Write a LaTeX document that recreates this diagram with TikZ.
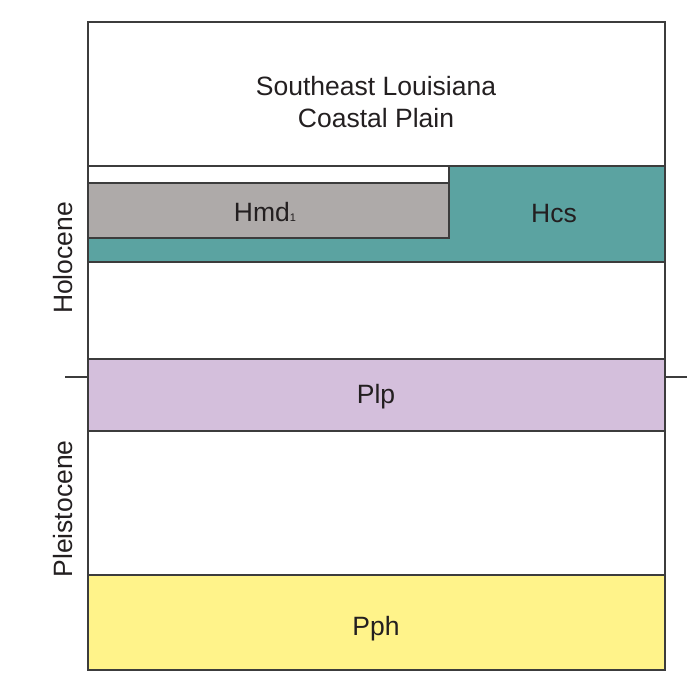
\documentclass[tikz,border=0pt]{standalone}
\usepackage{fontspec}
\setmainfont{Liberation Sans}
\definecolor{hcs}{RGB}{91,163,161}
\definecolor{hmd}{RGB}{174,170,169}
\definecolor{plp}{RGB}{212,191,220}
\definecolor{pph}{RGB}{255,243,138}
\definecolor{edge}{RGB}{60,60,60}
\definecolor{ink}{RGB}{35,31,32}
\newcommand{\unitlabel}{\fontsize{26.5}{32}\selectfont\color{ink}}
\newcommand{\lowone}{{\fontsize{11}{11}\selectfont 1}}

\begin{document}
\begin{tikzpicture}[x=1pt,y=-1pt,line width=1.2pt,
  unit/.style={draw=edge},
  lbl/.style={font=\unitlabel,inner sep=0pt,align=center},
  epoch/.style={lbl,rotate=90}]
\useasboundingbox (0,0) rectangle (697,691);
%coastal plain units
\fill[hcs] (449,166) -- (665,166) -- (665,262) -- (88,262) -- (88,238) -- (449,238) -- cycle;
\filldraw[unit,fill=hmd] (88,183) rectangle (449,238);
\draw[edge] (449,166) -- (449,238);
\draw[edge] (88,166) -- (665,166);
\draw[edge] (88,262) -- (665,262);
\filldraw[unit,fill=plp] (88,359) rectangle (665,431);
\filldraw[unit,fill=pph] (88,575) rectangle (665,670);
\draw[edge] (88,22) rectangle (665,670);
%epoch boundary
\draw[edge] (65,377) -- (88,377);
\draw[edge] (665,377) -- (687,377);
\node[lbl] (plain) at (376,102) {Southeast Louisiana\\Coastal Plain};
\node[lbl] (hmd) at (265,212) {Hmd\lowone};
\node[lbl] (hcs) at (554,214) {Hcs};
\node[lbl] (plp) at (376,397) {Plp};
\node[lbl] (pph) at (376,629) {Pph};
\node[epoch] (holo) at (63,258) {Holocene};
\node[epoch] (pleis) at (63,509) {Pleistocene};
\end{tikzpicture}
\end{document}
